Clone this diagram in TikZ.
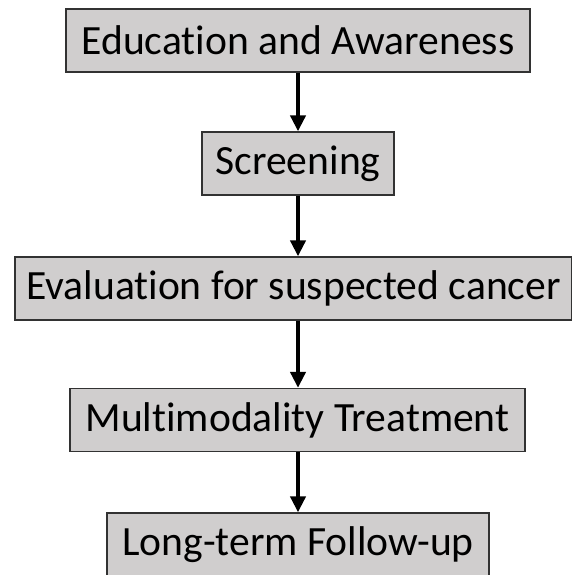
\documentclass[tikz,border=0pt]{standalone}
\usepackage{fontspec}
\setmainfont[Ligatures=CommonOff]{Carlito}
\usetikzlibrary{arrows.meta}
\definecolor{boxgray}{RGB}{208,206,206}
\definecolor{edgegray}{RGB}{50,50,50}

\begin{document}
\begin{tikzpicture}[x=1pt,y=-1pt,
                    stage/.style={draw=edgegray,fill=boxgray,line width=1.3pt,inner sep=0pt,
                                  minimum height=63pt,font=\fontsize{41.6}{46}\selectfont},
                    flow/.style={line width=4pt,-{Triangle[width=15pt,length=16pt]}}]
  \useasboundingbox (0,0) rectangle (572,575);
  \node[stage,minimum width=464pt] (edu)   at (298,40.5)  {Education and Awareness};
  \node[stage,minimum width=192pt] (scr)   at (298,163.5) {Screening};
  \node[stage,minimum width=557pt] (eval)  at (293.5,288.5) {Evaluation for suspected cancer};
  \node[stage,minimum width=455pt] (treat) at (297.5,420)  {Multimodality Treatment};
  \node[stage,minimum width=382pt] (fol)   at (298,544.5) {Long-term Follow-up};
  \draw[flow] (edu) -- (scr);
  \draw[flow] (scr.south) -- (scr.south |- eval.north);
  \draw[flow] (scr.south |- eval.south) -- (scr.south |- treat.north);
  \draw[flow] (scr.south |- treat.south) -- (fol);
\end{tikzpicture}
\end{document}
